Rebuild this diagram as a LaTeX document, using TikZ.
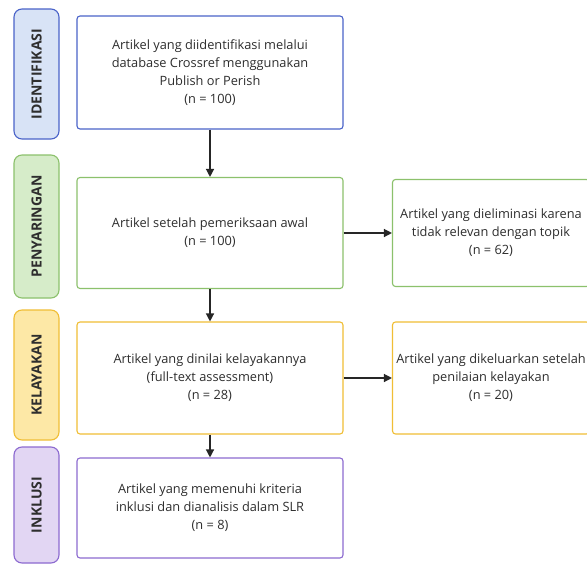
\documentclass[tikz,border=0pt]{standalone}
\usepackage{fontspec}
\setmainfont{Open Sans}
\usetikzlibrary{arrows.meta}
\definecolor{bluebd}{HTML}{4A63C9}
\definecolor{bluefl}{HTML}{D8E3F6}
\definecolor{greenbd}{HTML}{8CC16C}
\definecolor{greenfl}{HTML}{D6ECC9}
\definecolor{yellowbd}{HTML}{F0BE35}
\definecolor{yellowfl}{HTML}{FDE8A6}
\definecolor{purplebd}{HTML}{8C6AD0}
\definecolor{purplefl}{HTML}{E2D6F3}
\definecolor{txt}{HTML}{2E2E2E}
\tikzset{
  stage/.style={draw, line width=1.1pt, rounded corners=8pt, minimum width=45pt,
    inner sep=0pt, font=\fontsize{14}{16}\selectfont\bfseries, text=txt},
  mainbox/.style={draw, line width=1.1pt, rounded corners=3pt, fill=white,
    minimum width=266pt, align=center, inner sep=0pt,
    font=\fontsize{12.8}{18}\selectfont, text=txt},
  sidebox/.style={mainbox, minimum width=197pt},
  flow/.style={line width=1.3pt, draw=black!85, -{Triangle[length=8pt,width=8pt]}}
}
\begin{document}
\begin{tikzpicture}[x=1pt,y=-1pt]
\useasboundingbox (0,0) rectangle (587,565);
\clip (0,0) rectangle (587,565);
\fill[white] (0,0) rectangle (587,565);
% stage labels
\node[stage, draw=bluebd, fill=bluefl, minimum height=130pt] (L1) at (36.5,74) {\rotatebox{90}{IDENTIFIKASI}};
\node[stage, draw=greenbd, fill=greenfl, minimum height=143pt] (L2) at (36.5,226.5) {\rotatebox{90}{PENYARINGAN}};
\node[stage, draw=yellowbd, fill=yellowfl, minimum height=130pt] (L3) at (36.5,375) {\rotatebox{90}{KELAYAKAN}};
\node[stage, draw=purplebd, fill=purplefl, minimum height=116pt] (L4) at (36.5,505) {\rotatebox{90}{INKLUSI}};
% main boxes
\node[mainbox, draw=bluebd, minimum height=113pt] (B1) at (210,72.5)
  {Artikel yang diidentifikasi melalui\\database Crossref menggunakan\\Publish or Perish\\(n = 100)};
\node[mainbox, draw=greenbd, minimum height=111pt] (B2) at (210,233)
  {Artikel setelah pemeriksaan awal\\(n = 100)};
\node[mainbox, draw=yellowbd, minimum height=112pt] (B3) at (210,378)
  {Artikel yang dinilai kelayakannya\\(full-text assessment)\\(n = 28)};
\node[mainbox, draw=purplebd, minimum height=100pt] (B4) at (210,508)
  {Artikel yang memenuhi kriteria\\inklusi dan dianalisis dalam SLR\\(n = 8)};
% side boxes
\node[sidebox, draw=greenbd, minimum height=107pt] (R2) at (491,233)
  {Artikel yang dieliminasi karena\\tidak relevan dengan topik\\(n = 62)};
\node[sidebox, draw=yellowbd, minimum height=112pt] (R3) at (491,378)
  {Artikel yang dikeluarkan setelah\\penilaian kelayakan\\(n = 20)};
% connectors
\draw[flow] (B1) -- (B2);
\draw[flow] (B2) -- (B3);
\draw[flow] (B3) -- (B4);
\draw[flow] (B2) -- (R2);
\draw[flow] (B3) -- (R3);
\end{tikzpicture}
\end{document}
